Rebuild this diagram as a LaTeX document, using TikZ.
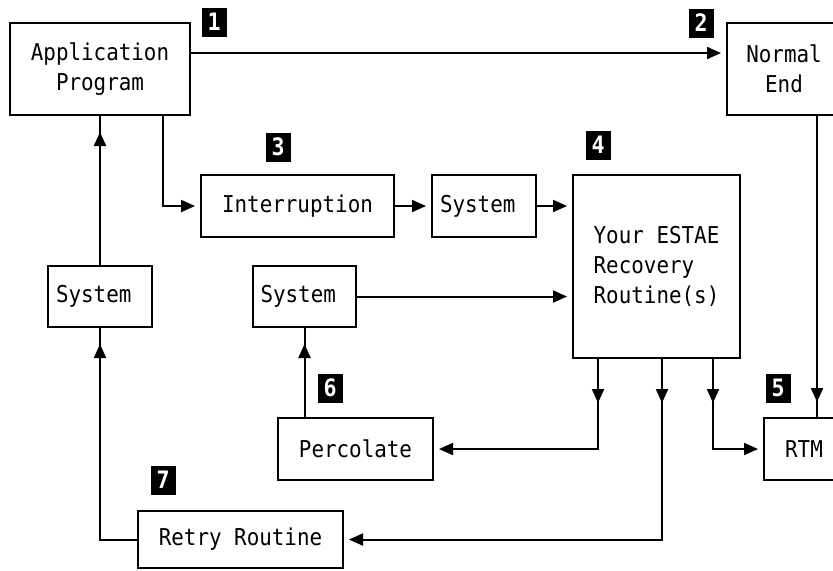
\documentclass[tikz,border=0pt]{standalone}
\usepackage{fontspec}
\setmonofont[FakeStretch=0.9]{DejaVu Sans Mono}
\usetikzlibrary{arrows.meta, decorations.markings}

\begin{document}
\begin{tikzpicture}[
            x=0.5pt, y=-0.5pt,
            >={Triangle[length=7pt, width=6pt]},
            line width=1pt,
            box/.style={draw, inner sep=0pt, align=center,
                font=\ttfamily\fontsize{11.6}{15}\selectfont},
            tag/.style={fill=black, text=white, inner sep=0pt,
                minimum width=12.5pt, minimum height=14.5pt,
                font=\ttfamily\bfseries\fontsize{12}{12}\selectfont},
            flow/.style={->, shorten >=2.5pt},
            midtip/.style={postaction={decorate},
                decoration={markings, mark=at position #1 with {\arrow{>}}}}
        ]
        \useasboundingbox (0,0) rectangle (833,570);
        \clip (0,0) rectangle (833,570);

        % Define boxes
        \node[box, minimum width=90pt, minimum height=46pt] (app) at (100,69) {Application\\Program};
        \node[box, minimum width=57pt, minimum height=46pt] (normal) at (784,69) {Normal\\End};
        \node[box, minimum width=96.5pt, minimum height=31pt] (interrupt) at (297.5,206) {Interruption};
        \node[box, minimum width=52pt, minimum height=31pt] (sysmid) at (484,206) {System~};
        \node[box, align=left, minimum width=83.5pt, minimum height=91.5pt] (estae) at (656.5,266.5) {Your ESTAE\\Recovery\\Routine(s)};
        \node[box, minimum width=51.5pt, minimum height=30.5pt] (syscen) at (304.5,296.5) {System~};
        \node[box, minimum width=52pt, minimum height=30.5pt] (sysleft) at (100,296.5) {System~};
        \node[box, minimum width=77.5pt, minimum height=31pt] (percolate) at (355.5,449) {Percolate};
        \node[box, minimum width=102.5pt, minimum height=28.5pt] (retry) at (240.5,539.5) {Retry Routine};
        \node[box, minimum width=40pt, minimum height=31pt] (rtm) at (804,449) {RTM};

        % Define step tags
        \node[tag] (t1) at (214,22) {1};
        \node[tag] (t2) at (701,23) {2};
        \node[tag] (t3) at (278,147) {3};
        \node[tag] (t4) at (598,145) {4};
        \node[tag] (t5) at (778,388) {5};
        \node[tag] (t6) at (330,388) {6};
        \node[tag] (t7) at (163,480) {7};

        % Draw connectors
        \draw[flow] ([yshift=8pt]app.east) -- ([yshift=8pt]normal.west);
        \draw[flow] ([xshift=31.5pt]app.south) |- (interrupt.west);
        \draw[flow] (interrupt.east) -- (sysmid.west);
        \draw[flow] (sysmid.east) -- (sysmid.east -| estae.west);
        \draw[flow] (syscen.east) -- (syscen.east -| estae.west);
        \draw[flow, midtip=22pt] ([xshift=13pt]estae.south west) |- (percolate.east);
        \draw[flow, midtip=22pt] ([xshift=45pt]estae.south west) |- (retry.east);
        \draw[flow, midtip=22pt] ([xshift=70.5pt]estae.south west) |- (rtm.west);
        \draw[midtip=-7.5pt] ([xshift=16.5pt]normal.south) -- ([xshift=16.5pt]normal.south |- rtm.north);
        \draw[midtip=-8pt] (sysleft.north) -- (app.south);
        \draw[midtip=-8pt] (syscen.south |- percolate.north) -- (syscen.south);
        \draw[midtip=-8pt] (retry.west) -| (sysleft.south);
\end{tikzpicture}
\end{document}
